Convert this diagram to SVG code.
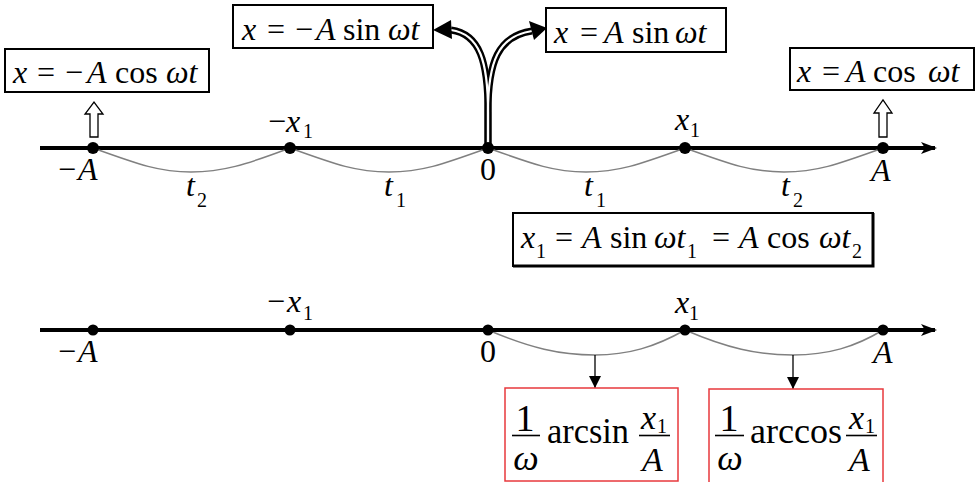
<svg xmlns="http://www.w3.org/2000/svg" width="977" height="482" viewBox="0 0 977 482">
<defs>
<style>
.box{fill:#fff;stroke:#000;stroke-width:2}
.rbox{fill:#fff;stroke:#e8383d;stroke-width:1.5}
.axis{stroke:#000;stroke-width:4;fill:none}
.arc{stroke:#808080;stroke-width:1.5;fill:none}
.dot{fill:#000}
.dbl-o{stroke:#000;stroke-width:7;fill:none}
.dbl-i{stroke:#fff;stroke-width:2.2;fill:none}
.hollow{fill:#fff;stroke:#000;stroke-width:1.3}
.bar{stroke:#000;stroke-width:1.6}
.thin{stroke:#000;stroke-width:1.3;fill:none}
</style>
<marker id="axhead" viewBox="0 0 16 12" refX="14" refY="6" markerWidth="16" markerHeight="12" markerUnits="userSpaceOnUse" orient="auto">
<path d="M0,0 L16,6 L0,12 L4,6 Z" fill="#000"/>
</marker>
<marker id="dn" viewBox="0 0 12 12" refX="12" refY="6" markerWidth="12" markerHeight="12" markerUnits="userSpaceOnUse" orient="auto">
<path d="M0,0 L12,6 L0,12 Z" fill="#000"/>
</marker>
</defs>
<rect width="977" height="482" fill="#fff"/>

<g id="axis-top">
<line class="axis" x1="40" y1="148" x2="935" y2="148" marker-end="url(#axhead)"/>
</g>

<g id="connectors">
<path class="arc" d="M93,148 C140,165 160,172 191,172 C222,172 245,165 290,148"/>
<path class="arc" d="M290,148 C337,165 357,172 389,172 C421,172 441,165 488,148"/>
<path class="arc" d="M488,148 C535,165 555,172 586,172 C618,172 638,165 685,148"/>
<path class="arc" d="M685,148 C732,165 752,172 784,172 C816,172 836,165 883,148"/>
<path class="dbl-o" d="M488,146 L488,112 C488,62 480,34 451,30"/>
<path class="dbl-o" d="M488,146 L488,112 C488,62 498,36 532,31"/>
<path class="dbl-i" d="M488,146 L488,112 C488,62 480,34 451,30"/>
<path class="dbl-i" d="M488,146 L488,112 C488,62 498,36 532,31"/>
<polygon points="433,30 451,20 452,39" fill="#000"/>
<polygon points="547,28 529,21 534,40" fill="#000"/>
<polygon class="hollow" points="90,137 90,114 85,114 94,102 103,114 98,114 98,137"/>
<polygon class="hollow" points="879,137 879,113 874,113 883,100 892,113 887,113 887,137"/>
<path class="arc" d="M488,330 C530,348 560,355 595,355 C628,355 655,347 685,330"/>
<path class="arc" d="M685,330 C727,348 757,355 793,355 C828,355 855,347 883,330"/>
<line class="thin" x1="595" y1="355" x2="595" y2="388" marker-end="url(#dn)"/>
<line class="thin" x1="793" y1="355" x2="793" y2="389" marker-end="url(#dn)"/>
</g>

<g id="dots-top">
<circle class="dot" cx="93" cy="148" r="6"/>
<circle class="dot" cx="290" cy="148" r="6"/>
<circle class="dot" cx="488" cy="148" r="6"/>
<circle class="dot" cx="685" cy="148" r="6"/>
<circle class="dot" cx="883" cy="148" r="6"/>
</g>

<g id="labels-top">
<text font-family="Liberation Serif" font-size="32" x="58" y="180">−</text>
<text font-family="Liberation Serif" font-size="32" font-style="italic" x="78" y="180">A</text>
<text font-family="Liberation Serif" font-size="32" x="268" y="132">−</text>
<text font-family="Liberation Serif" font-size="32" font-style="italic" x="286" y="132">x</text>
<text font-family="Liberation Serif" font-size="20" x="303" y="138">1</text>
<text font-family="Liberation Serif" font-size="32" x="480" y="180">0</text>
<text font-family="Liberation Serif" font-size="32" font-style="italic" x="675" y="130">x</text>
<text font-family="Liberation Serif" font-size="20" x="690" y="137">1</text>
<text font-family="Liberation Serif" font-size="32" font-style="italic" x="871" y="181">A</text>
<text font-family="Liberation Serif" font-size="32" font-style="italic" x="186" y="196">t</text>
<text font-family="Liberation Serif" font-size="20" x="197" y="207">2</text>
<text font-family="Liberation Serif" font-size="32" font-style="italic" x="384" y="196">t</text>
<text font-family="Liberation Serif" font-size="20" x="396" y="207">1</text>
<text font-family="Liberation Serif" font-size="32" font-style="italic" x="584" y="196">t</text>
<text font-family="Liberation Serif" font-size="20" x="596" y="207">1</text>
<text font-family="Liberation Serif" font-size="32" font-style="italic" x="781" y="196">t</text>
<text font-family="Liberation Serif" font-size="20" x="793" y="207">2</text>
</g>

<g id="box-neg-cos">
<rect class="box" x="5" y="49" width="204" height="43"/>
<text font-family="Liberation Serif" font-size="32" font-style="italic" x="13" y="83">x</text>
<text font-family="Liberation Serif" font-size="32" x="37" y="83">=</text>
<text font-family="Liberation Serif" font-size="32" x="65" y="83">−</text>
<text font-family="Liberation Serif" font-size="32" font-style="italic" x="87" y="83">A</text>
<text font-family="Liberation Serif" font-size="32" x="115" y="83">cos</text>
<text font-family="Liberation Serif" font-size="32" font-style="italic" x="166" y="83">ωt</text>
</g>

<g id="box-neg-sin">
<rect class="box" x="233" y="5" width="200" height="43"/>
<text font-family="Liberation Serif" font-size="32" font-style="italic" x="242" y="40">x</text>
<text font-family="Liberation Serif" font-size="32" x="267" y="40">=</text>
<text font-family="Liberation Serif" font-size="32" x="295" y="40">−</text>
<text font-family="Liberation Serif" font-size="32" font-style="italic" x="316" y="40">A</text>
<text font-family="Liberation Serif" font-size="32" x="343" y="40">sin</text>
<text font-family="Liberation Serif" font-size="32" font-style="italic" x="388" y="40">ωt</text>
</g>

<g id="box-pos-sin">
<rect class="box" x="546" y="8" width="180" height="44"/>
<text font-family="Liberation Serif" font-size="32" font-style="italic" x="554" y="43">x</text>
<text font-family="Liberation Serif" font-size="32" x="580" y="43">=</text>
<text font-family="Liberation Serif" font-size="32" font-style="italic" x="604" y="43">A</text>
<text font-family="Liberation Serif" font-size="32" x="632" y="43">sin</text>
<text font-family="Liberation Serif" font-size="32" font-style="italic" x="675" y="43">ωt</text>
</g>

<g id="box-pos-cos">
<rect class="box" x="790" y="48" width="184" height="42"/>
<text font-family="Liberation Serif" font-size="32" font-style="italic" x="797" y="82">x</text>
<text font-family="Liberation Serif" font-size="32" x="822" y="82">=</text>
<text font-family="Liberation Serif" font-size="32" font-style="italic" x="846" y="82">A</text>
<text font-family="Liberation Serif" font-size="32" x="873" y="82">cos</text>
<text font-family="Liberation Serif" font-size="32" font-style="italic" x="928" y="82">ωt</text>
</g>

<g id="box-relation">
<rect class="box" x="513" y="213" width="360" height="53"/>
<path d="M513,266 L873,266 L873,213" stroke="#000" stroke-width="3" fill="none"/>
<text font-family="Liberation Serif" font-size="32" font-style="italic" x="521" y="248">x</text>
<text font-family="Liberation Serif" font-size="20" x="536" y="258">1</text>
<text font-family="Liberation Serif" font-size="32" x="555" y="248">=</text>
<text font-family="Liberation Serif" font-size="32" font-style="italic" x="582" y="248">A</text>
<text font-family="Liberation Serif" font-size="32" x="610" y="248">sin</text>
<text font-family="Liberation Serif" font-size="32" font-style="italic" x="654" y="248">ωt</text>
<text font-family="Liberation Serif" font-size="20" x="687" y="258">1</text>
<text font-family="Liberation Serif" font-size="32" x="712" y="248">=</text>
<text font-family="Liberation Serif" font-size="32" font-style="italic" x="739" y="248">A</text>
<text font-family="Liberation Serif" font-size="32" x="767" y="248">cos</text>
<text font-family="Liberation Serif" font-size="32" font-style="italic" x="819" y="248">ωt</text>
<text font-family="Liberation Serif" font-size="20" x="852" y="258">2</text>
</g>

<g id="axis-bottom">
<line class="axis" x1="40" y1="330" x2="935" y2="330" marker-end="url(#axhead)"/>
<circle class="dot" cx="93" cy="330" r="5.5"/>
<circle class="dot" cx="290" cy="330" r="5.5"/>
<circle class="dot" cx="488" cy="330" r="5.5"/>
<circle class="dot" cx="685" cy="330" r="5.5"/>
<circle class="dot" cx="883" cy="330" r="5.5"/>
</g>

<g id="labels-bottom">
<text font-family="Liberation Serif" font-size="32" x="58" y="362">−</text>
<text font-family="Liberation Serif" font-size="32" font-style="italic" x="78" y="362">A</text>
<text font-family="Liberation Serif" font-size="32" x="267" y="312">−</text>
<text font-family="Liberation Serif" font-size="32" font-style="italic" x="287" y="312">x</text>
<text font-family="Liberation Serif" font-size="20" x="303" y="320">1</text>
<text font-family="Liberation Serif" font-size="32" x="480" y="362">0</text>
<text font-family="Liberation Serif" font-size="32" font-style="italic" x="675" y="313">x</text>
<text font-family="Liberation Serif" font-size="20" x="689" y="320">1</text>
<text font-family="Liberation Serif" font-size="32" font-style="italic" x="873" y="363">A</text>
</g>

<g id="box-arcsin">
<rect class="rbox" x="505" y="388" width="173" height="93"/>
<text font-family="Liberation Serif" font-size="38" x="525" y="431" text-anchor="middle">1</text>
<line class="bar" x1="512" y1="435.5" x2="540" y2="435.5"/>
<text font-family="Liberation Serif" font-size="36" font-style="italic" x="526" y="470" text-anchor="middle">ω</text>
<text font-family="Liberation Serif" font-size="36" x="547" y="443" textLength="82" lengthAdjust="spacingAndGlyphs">arcsin</text>
<line class="bar" x1="639" y1="435.5" x2="670" y2="435.5"/>
<text font-family="Liberation Serif" font-size="34" font-style="italic" x="641" y="429">x</text>
<text font-family="Liberation Serif" font-size="20" x="657" y="433">1</text>
<text font-family="Liberation Serif" font-size="34" font-style="italic" x="642" y="471">A</text>
</g>

<g id="box-arccos">
<rect class="rbox" x="709" y="389" width="174" height="96"/>
<text font-family="Liberation Serif" font-size="38" x="729" y="431" text-anchor="middle">1</text>
<line class="bar" x1="715" y1="435.5" x2="744" y2="435.5"/>
<text font-family="Liberation Serif" font-size="36" font-style="italic" x="730" y="470" text-anchor="middle">ω</text>
<text font-family="Liberation Serif" font-size="36" x="750" y="443" textLength="92" lengthAdjust="spacingAndGlyphs">arccos</text>
<line class="bar" x1="846" y1="435.5" x2="877" y2="435.5"/>
<text font-family="Liberation Serif" font-size="34" font-style="italic" x="849" y="429">x</text>
<text font-family="Liberation Serif" font-size="20" x="865" y="433">1</text>
<text font-family="Liberation Serif" font-size="34" font-style="italic" x="849" y="471">A</text>
</g>
</svg>
